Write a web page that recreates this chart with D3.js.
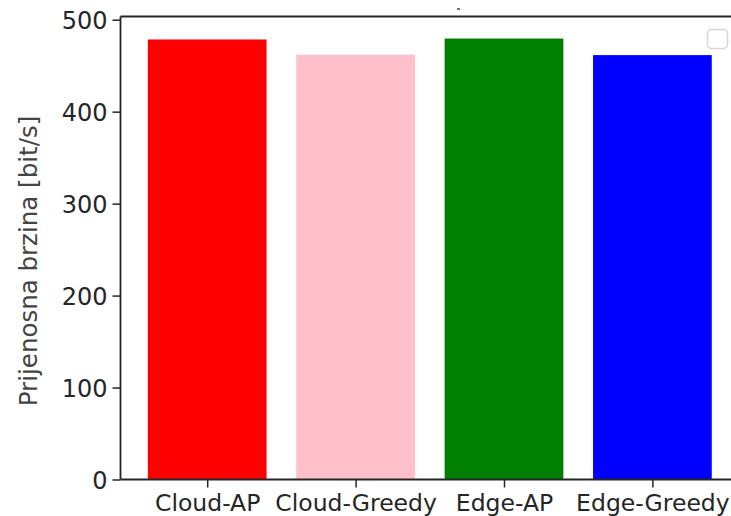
<!DOCTYPE html>
<html><head><meta charset="utf-8">
<script src="https://cdn.jsdelivr.net/npm/d3@7/dist/d3.min.js"></script>
<style>body{margin:0;background:#fff;}svg{display:block;}svg text{font-family:"DejaVu Sans",sans-serif;}</style>
</head><body>
<script>
const categories = ["Cloud-AP", "Cloud-Greedy", "Edge-AP", "Edge-Greedy"];
const values = [478.5, 462, 479.5, 461.5];
const colors = ["#ff0000", "#ffc0cb", "#008000", "#0000ff"];
const yTicks = [0, 100, 200, 300, 400, 500];
const yLabel = "Prijenosna brzina [bit/s]";

(function () {
const W = 731, H = 516;
const FONT = "DejaVu Sans";
const mLeft = 120.5, mTop = 16.5, mBottom = 479.5;
const step = 148.4;
const x0 = 207.2;
const x = d3.scaleLinear().domain([-0.59, categories.length - 0.41])
  .range([x0 - 0.59 * step, x0 + (categories.length - 0.41) * step]);
const mRight = x.range()[1];
const y = d3.scaleLinear().domain([0, d3.max(values) * 1.05]).range([mBottom, mTop]);

const svg = d3.select("body").append("svg").attr("width", W).attr("height", H)
  .attr("font-family", FONT);

svg.selectAll("rect.bar").data(values).join("rect")
  .attr("class", "bar")
  .attr("x", (d, i) => x(i - 0.4))
  .attr("width", (d, i) => x(i + 0.4) - x(i - 0.4))
  .attr("y", d => y(d))
  .attr("height", d => y(0) - y(d))
  .attr("fill", (d, i) => colors[i]);

// y axis
const yAxis = svg.append("g").attr("transform", `translate(${mLeft},0)`)
  .call(d3.axisLeft(y).tickValues(yTicks).tickSize(8).tickPadding(5).tickFormat(d3.format("d")))
  .attr("font-family", FONT);
yAxis.select(".domain").remove();
yAxis.selectAll("line").attr("stroke", "#262626").attr("stroke-width", 1.5);
yAxis.selectAll("text").attr("fill", "#262626").style("font-size", "24px").attr("dy", "0.36em");

// x axis
const xAxis = svg.append("g").attr("transform", `translate(0,${mBottom})`)
  .call(d3.axisBottom(x).tickValues(d3.range(categories.length)).tickSize(8).tickPadding(6).tickFormat(i => categories[i]))
  .attr("font-family", FONT);
xAxis.select(".domain").remove();
xAxis.selectAll("line").attr("stroke", "#262626").attr("stroke-width", 1.5);
xAxis.selectAll("text").attr("fill", "#262626").style("font-size", "23.5px").attr("dy", "0.75em");

// spines
const sp = svg.append("g").attr("stroke", "#262626").attr("stroke-width", 1.8).attr("fill", "none");
sp.append("line").attr("x1", mLeft).attr("x2", mLeft).attr("y1", mTop).attr("y2", mBottom);
sp.append("line").attr("x1", mLeft).attr("x2", mRight).attr("y1", mBottom).attr("y2", mBottom);
sp.append("line").attr("x1", mLeft).attr("x2", mRight).attr("y1", mTop).attr("y2", mTop);
sp.append("line").attr("x1", mRight).attr("x2", mRight).attr("y1", mTop).attr("y2", mBottom);

// y label
svg.append("text")
  .attr("transform", `translate(37,${(mTop + mBottom) / 2 + 13}) rotate(-90)`)
  .attr("text-anchor", "middle")
  .attr("fill", "#444")
  .style("font-size", "24.5px")
  .text(yLabel);

// empty legend box
svg.append("rect").attr("x", 707.5).attr("y", 29.5).attr("width", 20).attr("height", 19)
  .attr("rx", 4).attr("fill", "#fff").attr("stroke", "#d6d6d6").attr("stroke-width", 1.5);

// tiny mark (empty title artefact)
svg.append("rect").attr("x", 457).attr("y", 8).attr("width", 3).attr("height", 2).attr("fill", "#777");
})();
</script>
</body></html>
